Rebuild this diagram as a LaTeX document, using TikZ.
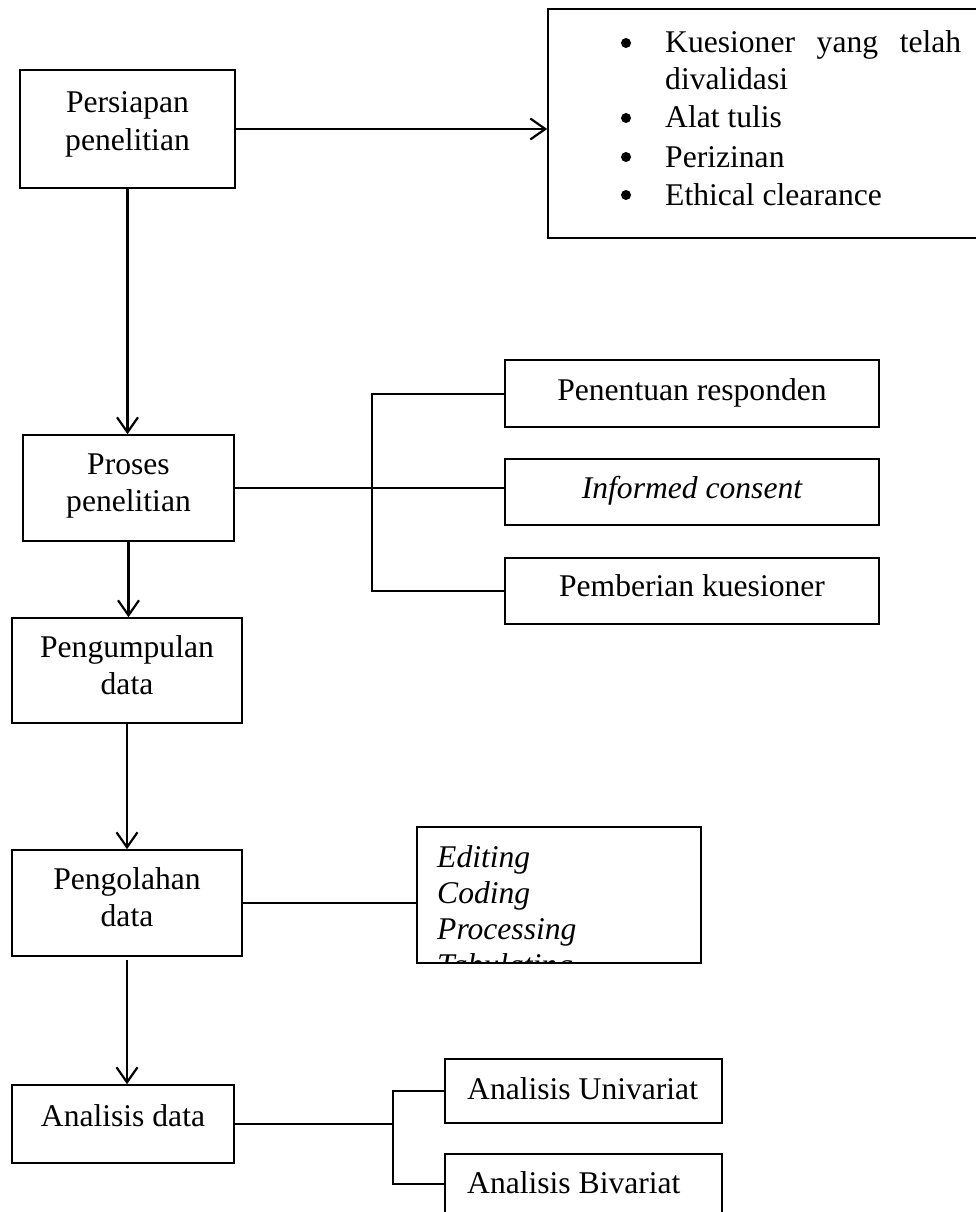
\documentclass[tikz,border=0pt]{standalone}
\usepackage{fontspec}
\setmainfont{Liberation Serif}
\usetikzlibrary{arrows.meta}
\begin{document}
\begin{tikzpicture}[x=1pt,y=-1pt,
  box/.style={draw, line width=1.6pt, inner sep=0pt},
  ltxt/.style={font=\fontsize{31.6}{36}\selectfont, inner sep=0pt},
  dot/.style={circle, fill, inner sep=0pt, minimum size=10pt},
  arr/.style={line width=2.2pt, -{Straight Barb[length=15pt,width=21pt]}},
  ln/.style={line width=2pt}]
\useasboundingbox (0,0) rectangle (976,1212);
\clip (0,0) rectangle (976,1212);

% boxes
\node[box, minimum width=215pt, minimum height=118pt] (A) at (127.5,129) {};
\node[box, minimum width=442pt, minimum height=229pt] (B) at (769,123.5) {};
\node[box, minimum width=211pt, minimum height=106pt] (P) at (128.5,488) {};
\node[box, minimum width=374pt, minimum height=67pt] (S1) at (692,393.5) {};
\node[box, minimum width=374pt, minimum height=66pt] (S2) at (692,492) {};
\node[box, minimum width=374pt, minimum height=66pt] (S3) at (692,591) {};
\node[box, minimum width=230pt, minimum height=105pt] (C) at (127,670.5) {};
\node[box, minimum width=230pt, minimum height=106pt] (O) at (127,903) {};
\node[box, minimum width=284pt, minimum height=136pt] (E) at (559,895) {};
\node[box, minimum width=222pt, minimum height=78pt] (D) at (123,1124) {};
\node[box, minimum width=277pt, minimum height=64pt] (U) at (583.5,1091) {};
\node[box, minimum width=277pt, minimum height=60pt] (V) at (583.5,1184) {};

% texts
\node[ltxt, anchor=base] (ta1) at (127.5,113) {Persiapan};
\node[ltxt, anchor=base] (ta2) at (127.5,150) {penelitian};
\node[dot] (bu1) at (626,43) {};
\node[dot] (bu2) at (626,118) {};
\node[dot] (bu3) at (626,157) {};
\node[dot] (bu4) at (626,195) {};
\node[ltxt, anchor=base west] (tb1) at (665,53) {\makebox[296pt][s]{Kuesioner yang telah}};
\node[ltxt, anchor=base west] (tb2) at (665,90) {divalidasi};
\node[ltxt, anchor=base west] (tb3) at (665,128) {Alat tulis};
\node[ltxt, anchor=base west] (tb4) at (665,167) {Perizinan};
\node[ltxt, anchor=base west] (tb5) at (665,205) {Ethical clearance};
\node[ltxt, anchor=base] (tp1) at (128.5,474) {Proses};
\node[ltxt, anchor=base] (tp2) at (128.5,511) {penelitian};
\node[ltxt, anchor=base] (ts1) at (692,400) {Penentuan responden};
\node[ltxt, anchor=base] (ts2) at (692,498.5) {\itshape Informed consent};
\node[ltxt, anchor=base] (ts3) at (692,596.5) {Pemberian kuesioner};
\node[ltxt, anchor=base] (tc1) at (127,657) {Pengumpulan};
\node[ltxt, anchor=base] (tc2) at (127,694) {data};
\node[ltxt, anchor=base] (to1) at (127,889) {Pengolahan};
\node[ltxt, anchor=base] (to2) at (127,926) {data};
\begin{scope}
\clip (417,827) rectangle (701,963);
\node[ltxt, anchor=base west] (te1) at (437,867) {\itshape Editing};
\node[ltxt, anchor=base west] (te2) at (437,903) {\itshape Coding};
\node[ltxt, anchor=base west] (te3) at (437,939) {\itshape Processing};
\node[ltxt, anchor=base west] (te4) at (437,975) {\itshape Tabulating};
\end{scope}
\node[ltxt, anchor=base] (td) at (123,1126) {Analisis data};
\node[ltxt, anchor=base west] (tu) at (467,1099) {Analisis Univariat};
\node[ltxt, anchor=base west] (tv) at (467,1193) {Analisis Bivariat};

% connectors
\coordinate (j1) at (372,488);
\coordinate (j2) at (393,1122);
\draw[arr] (A.east) -- (A.east -| B.west);
\draw[arr] (A.south) -- (A.south |- P.north);
\draw[ln] (P.east) -- (P.east -| S2.west);
\draw[ln] (S1.west) -| (j1) |- (S3.west);
\draw[arr] (P.south) -- (P.south |- C.north);
\draw[arr] (C.south) -- (C.south |- O.north);
\draw[ln] (O.east) -- (O.east -| E.west);
\draw[arr, shorten <=3pt] (O.south) -- (O.south |- D.north);
\draw[ln] (D.east) -- (D.east -| j2);
\draw[ln] (U.west) -| (j2) |- (V.west);
\end{tikzpicture}
\end{document}
